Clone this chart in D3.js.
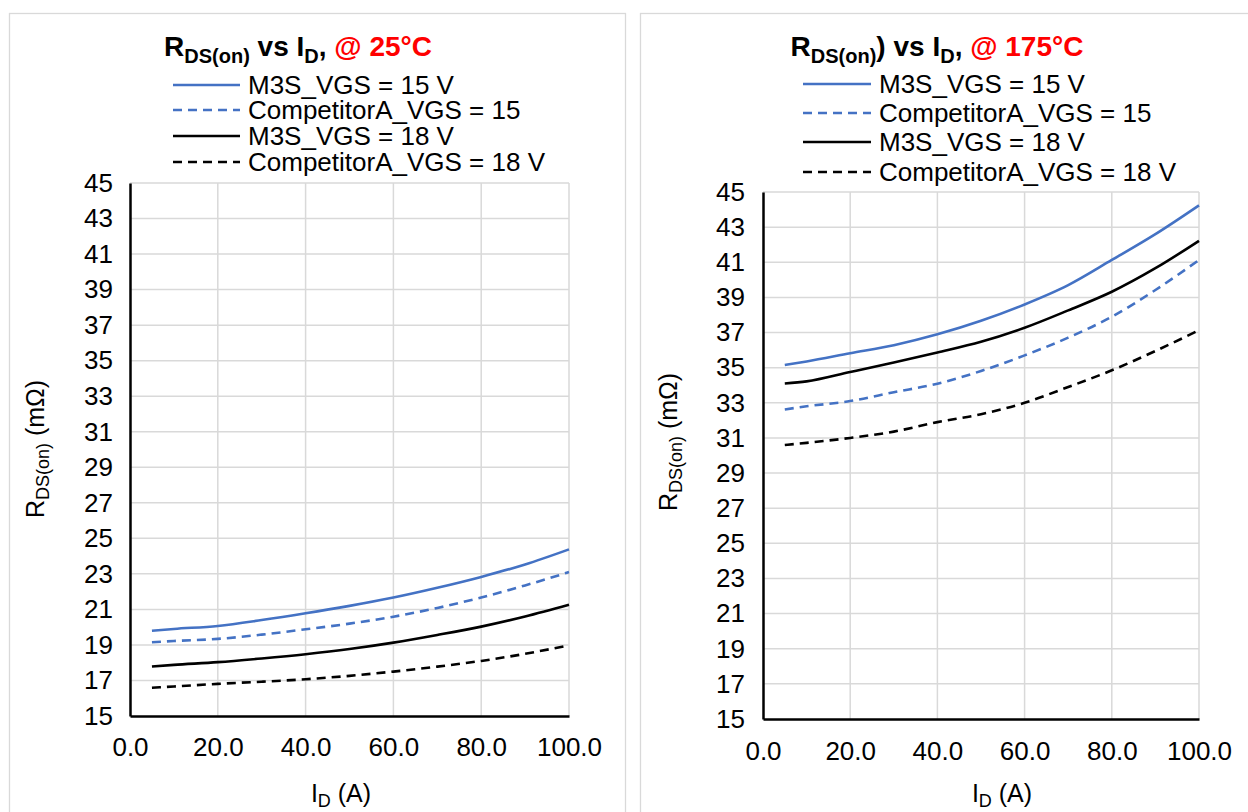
<!DOCTYPE html>
<html><head><meta charset="utf-8">
<script src="https://cdn.jsdelivr.net/npm/d3@7/dist/d3.min.js"></script>
<style>
html,body{margin:0;padding:0;background:#fff;}
svg text{font-family:"Liberation Sans",Arial,sans-serif;}
</style></head>
<body>
<svg id="chart" width="1248" height="812"></svg>
<script>
// ---- data ----
const currents = [5, 10, 20, 30, 40, 50, 60, 70, 80, 90, 100];
const seriesNames = ["M3S_VGS = 15 V", "CompetitorA_VGS = 15", "M3S_VGS = 18 V", "CompetitorA_VGS = 18 V"];
// 25 °C
const m3s15_25 = [19.80, 19.90, 20.07, 20.40, 20.78, 21.20, 21.67, 22.22, 22.83, 23.53, 24.38];
const compA15_25 = [19.15, 19.22, 19.34, 19.58, 19.88, 20.20, 20.59, 21.08, 21.67, 22.35, 23.10];
const m3s18_25 = [17.79, 17.88, 18.03, 18.24, 18.48, 18.77, 19.13, 19.56, 20.03, 20.60, 21.26];
const compA18_25 = [16.59, 16.66, 16.81, 16.93, 17.07, 17.26, 17.50, 17.78, 18.10, 18.50, 18.98];
// 175 °C
const m3s15_175 = [35.15, 35.35, 35.82, 36.28, 36.90, 37.67, 38.60, 39.70, 41.13, 42.60, 44.24];
const compA15_175 = [32.62, 32.80, 33.10, 33.60, 34.09, 34.81, 35.70, 36.71, 37.90, 39.42, 41.13];
const m3s18_175 = [34.10, 34.22, 34.75, 35.29, 35.86, 36.47, 37.27, 38.26, 39.32, 40.66, 42.22];
const compA18_175 = [30.60, 30.72, 31.00, 31.36, 31.90, 32.35, 33.00, 33.90, 34.85, 35.95, 37.13];
const xTicks = [0, 20, 40, 60, 80, 100];
const yTicks = [15, 17, 19, 21, 23, 25, 27, 29, 31, 33, 35, 37, 39, 41, 43, 45];
const tempLabels = ["@ 25°C", "@ 175°C"];

const styles = [
  {color: "#4472c4", dash: null},
  {color: "#4472c4", dash: "9,6"},
  {color: "#000000", dash: null},
  {color: "#000000", dash: "9,6"}
];

const svg = d3.select("#chart");

function drawPanel(cfg) {
  const g = svg.append("g");
  g.append("rect").attr("x", cfg.frame[0]).attr("y", cfg.frame[1])
    .attr("width", cfg.frame[2]).attr("height", cfg.frame[3])
    .attr("fill", "#fff").attr("stroke", "#d9d9d9").attr("stroke-width", 1.3);

  const x = d3.scaleLinear().domain([0, 100]).range([cfg.plot.x0, cfg.plot.x1]);
  const y = d3.scaleLinear().domain([15, 45]).range([cfg.plot.y1, cfg.plot.y0]);

  g.append("g").selectAll("line").data(yTicks.slice(1)).join("line")
    .attr("x1", x(0)).attr("x2", x(100)).attr("y1", d => y(d)).attr("y2", d => y(d))
    .attr("stroke", "#d9d9d9").attr("stroke-width", 1.5);
  g.append("g").selectAll("line").data(xTicks.slice(1)).join("line")
    .attr("x1", d => x(d)).attr("x2", d => x(d)).attr("y1", y(15)).attr("y2", y(45))
    .attr("stroke", "#d9d9d9").attr("stroke-width", 1.5);

  const yAxis = d3.axisLeft(y).tickValues(yTicks).tickSize(0).tickPadding(cfg.yPad).tickFormat(d3.format("d"));
  const ya = g.append("g").attr("transform", `translate(${x(0)},0)`).call(yAxis);
  ya.select(".domain").attr("stroke", "#000").attr("stroke-width", 2.5);
  ya.selectAll("text").attr("font-size", 26).attr("fill", "#000");

  const xAxis = d3.axisBottom(x).tickValues(xTicks).tickSize(0).tickPadding(cfg.xPad).tickFormat(d3.format(".1f"));
  const xa = g.append("g").attr("transform", `translate(0,${y(15)})`).call(xAxis);
  xa.select(".domain").attr("stroke", "#000").attr("stroke-width", 2.5);
  xa.selectAll("text").attr("font-size", 26).attr("fill", "#000");

  const line = d3.line().x(d => x(d[0])).y(d => y(d[1])).curve(d3.curveMonotoneX);
  cfg.series.forEach((vals, i) => {
    g.append("path").datum(currents.map((c, k) => [c, vals[k]]))
      .attr("d", line).attr("fill", "none")
      .attr("stroke", styles[i].color).attr("stroke-width", 2.6)
      .attr("stroke-dasharray", styles[i].dash);
  });

  const t = g.append("text").attr("x", cfg.titleX).attr("y", cfg.titleY)
    .attr("text-anchor", "middle").attr("font-size", 28).attr("font-weight", "bold");
  t.append("tspan").text("R");
  t.append("tspan").attr("font-size", 20).attr("dy", 7).text("DS(on)");
  t.append("tspan").attr("dy", -7).text((cfg.extraParen ? ")" : "") + " vs I");
  t.append("tspan").attr("font-size", 20).attr("dy", 7).text("D");
  t.append("tspan").attr("dy", -7).text(", ");
  t.append("tspan").attr("fill", "#ff0000").text(cfg.temp);

  cfg.legendY.forEach((ly, i) => {
    g.append("line").attr("x1", cfg.legendX0).attr("x2", cfg.legendX1)
      .attr("y1", ly).attr("y2", ly)
      .attr("stroke", styles[i].color).attr("stroke-width", 2.6)
      .attr("stroke-dasharray", styles[i].dash);
    g.append("text").attr("x", cfg.legendX1 + 8).attr("y", ly + 9)
      .attr("font-size", 26).text(seriesNames[i]);
  });

  const yt = g.append("text").attr("transform", `translate(${cfg.yTitle[0]},${cfg.yTitle[1]}) rotate(-90)`)
    .attr("text-anchor", "middle").attr("font-size", 25);
  yt.append("tspan").text("R");
  yt.append("tspan").attr("font-size", 18).attr("dy", 5).text("DS(on)");
  yt.append("tspan").attr("dy", -5).text(" (mΩ)");

  const xt = g.append("text").attr("x", cfg.xTitle[0]).attr("y", cfg.xTitle[1])
    .attr("text-anchor", "middle").attr("font-size", 25);
  xt.append("tspan").text("I");
  xt.append("tspan").attr("font-size", 18).attr("dy", 5).text("D");
  xt.append("tspan").attr("dy", -5).text(" (A)");
}

drawPanel({
  frame: [9.5, 13.5, 616, 820],
  plot: {x0: 130, x1: 569, y0: 183, y1: 716},
  yPad: 17, xPad: 22,
  series: [m3s15_25, compA15_25, m3s18_25, compA18_25],
  titleX: 298, titleY: 56, temp: tempLabels[0], extraParen: false,
  legendX0: 173, legendX1: 240, legendY: [85, 110, 136, 162],
  yTitle: [44, 449], xTitle: [341, 802]
});
drawPanel({
  frame: [640.5, 13.5, 620, 820],
  plot: {x0: 763, x1: 1199, y0: 192, y1: 719},
  yPad: 18, xPad: 23,
  series: [m3s15_175, compA15_175, m3s18_175, compA18_175],
  titleX: 937, titleY: 56, temp: tempLabels[1], extraParen: true,
  legendX0: 803, legendX1: 871, legendY: [84, 113, 142, 172],
  yTitle: [677, 442], xTitle: [1002, 802]
});
</script>
</body></html>
